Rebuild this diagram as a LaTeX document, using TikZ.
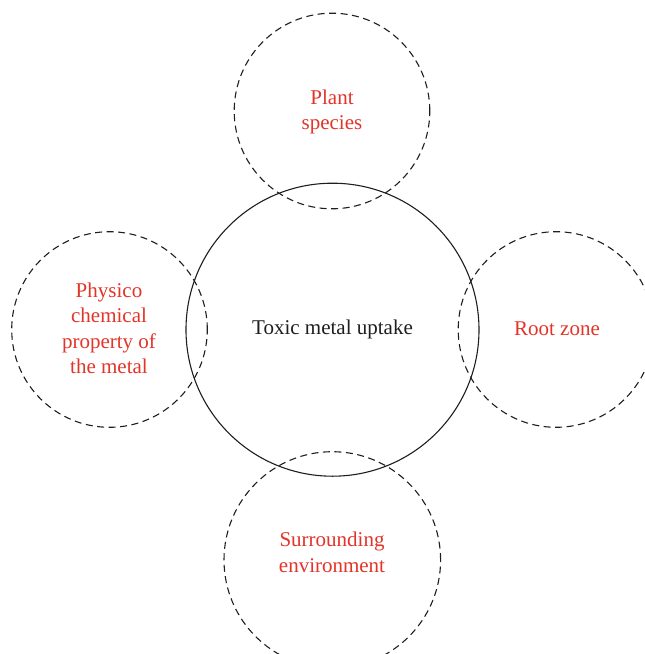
\documentclass[tikz,border=0pt]{standalone}
\usepackage{fontspec}
\setmainfont{Liberation Serif}
\definecolor{lbl}{RGB}{226,52,40}
\definecolor{ink}{RGB}{30,30,30}
\begin{document}
\begin{tikzpicture}[x=1pt,y=-1pt,
  maincirc/.style={circle,draw=ink,line width=1.1pt,inner sep=0pt,minimum size=293pt},
  satcirc/.style={circle,draw=ink,line width=1.1pt,dash pattern=on 7pt off 4.5pt,inner sep=0pt},
  satlabel/.style={text=lbl,font=\fontsize{21}{25.5}\selectfont,align=center},
  mainlabel/.style={text=ink,font=\fontsize{21}{25.5}\selectfont}]
\useasboundingbox (0,0) rectangle (645,654);
\node[maincirc] (main) at (332.5,329.7) {};
\node[satcirc,minimum size=195.6pt] (top) at (332,111) {};
\node[satcirc,minimum size=195.6pt] (left) at (109.5,329.5) {};
\node[satcirc,minimum size=195.6pt] (right) at (556,329.5) {};
\node[satcirc,minimum size=216.6pt] (bottom) at (332.3,560) {};
\node[mainlabel] (mainT) at (main.center) {Toxic metal uptake};
\node[satlabel] (topT) at (332,112) {Plant\\species};
\node[satlabel] (leftT) at (109,328.5) {Physico\\chemical\\property of\\the metal};
\node[satlabel] (rightT) at (557,329) {Root zone};
\node[satlabel] (bottomT) at (332,552.5) {Surrounding\\environment};
\end{tikzpicture}
\end{document}
